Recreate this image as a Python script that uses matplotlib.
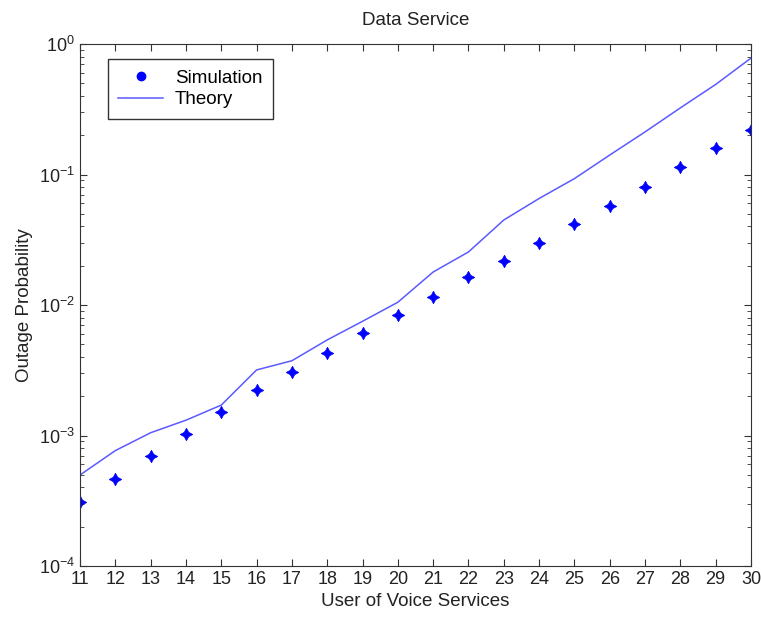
import matplotlib
matplotlib.use('Agg')
import matplotlib.pyplot as plt
from matplotlib.lines import Line2D

# number of voice users
users = [11, 12, 13, 14, 15, 16, 17, 18, 19, 20, 21, 22, 23, 24, 25, 26, 27, 28, 29, 30]

# outage probability
simulation = [3.11e-4, 4.65e-4, 7.0e-4, 1.03e-3, 1.51e-3, 2.23e-3, 3.08e-3, 4.28e-3, 6.07e-3, 8.38e-3,
              1.16e-2, 1.63e-2, 2.17e-2, 3.0e-2, 4.18e-2, 5.77e-2, 8.07e-2, 0.1135, 0.159, 0.219]
theory = [4.98e-4, 7.66e-4, 1.05e-3, 1.31e-3, 1.71e-3, 3.18e-3, 3.74e-3, 5.4e-3, 7.5e-3, 1.05e-2,
          1.79e-2, 2.55e-2, 4.48e-2, 6.55e-2, 9.3e-2, 0.141, 0.212, 0.324, 0.49, 0.78]

plt.rcParams['font.family'] = ['Liberation Sans', 'DejaVu Sans']
plt.rcParams['font.size'] = 13.5
plt.rcParams['mathtext.default'] = 'regular'

fig = plt.figure(figsize=(7.61, 6.23), dpi=100)
ax = fig.add_axes([80 / 761, 1 - 566 / 623, 671 / 761, 522 / 623])

ax.semilogy(users, theory, color='#5a5aff', lw=1.1)
ax.semilogy(users, simulation, linestyle='none', marker=(4, 1, 0), markersize=9,
            color='#0000ff', markeredgewidth=0.5)

ax.set_xlim(11, 30)
ax.set_ylim(1e-4, 1)
ax.set_xticks(users)
ax.tick_params(which='both', direction='in', top=True, right=True, colors='#333333', labelcolor='#222222')
ax.tick_params(which='major', length=5, labelsize=13)
ax.tick_params(which='minor', length=3)
for sp in ax.spines.values():
    sp.set_color('#333333')

ax.set_title('Data Service', fontsize=13.5, pad=14, color='#222222')
ax.set_xlabel('User of Voice Services', color='#222222', labelpad=4)
ax.set_ylabel('Outage Probability', color='#222222', labelpad=4)

handles = [Line2D([], [], linestyle='none', marker='o', markersize=6, color='#0000ff'),
           Line2D([], [], color='#5a5aff', lw=1.1)]
leg = ax.legend(handles, ['Simulation', 'Theory'], loc='upper left', bbox_to_anchor=(0.042, 0.971),
                borderaxespad=0, fancybox=False, edgecolor='#333333', framealpha=1,
                handlelength=2.4, handletextpad=0.6, borderpad=0.55, labelspacing=0.25)
leg.get_frame().set_linewidth(1.0)

fig.savefig('out.png', dpi=100)
